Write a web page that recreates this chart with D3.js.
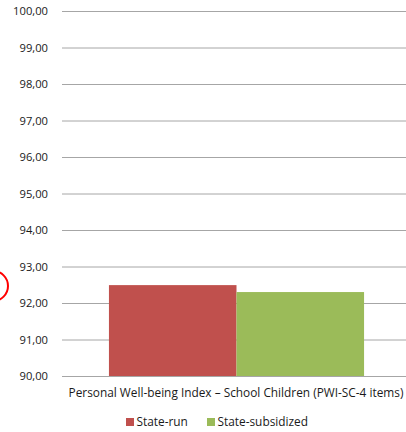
<!DOCTYPE html>
<html><head><meta charset="utf-8">
<script src="https://cdn.jsdelivr.net/npm/d3@7"></script>
<style>body{margin:0;background:#fff}svg{display:block}text{font-family:'Open Sans',sans-serif;fill:#1a1a1a}</style>
</head><body>
<svg id="c" width="406" height="432"></svg>
<script>
const categories = ["Personal Well-being Index – School Children (PWI-SC-4 items)"];
const seriesNames = ["State-run", "State-subsidized"];
const stateRun = [92.49];
const stateSubsidized = [92.30];
const yTicks = [90,91,92,93,94,95,96,97,98,99,100];
const colors = ["#C0504D", "#9BBB59"];

const svg = d3.select("#c");
const y = d3.scaleLinear().domain([90,100]).range([376, 11]);
const x0 = d3.scaleBand().domain(categories).range([62, 411]).paddingInner(0).paddingOuter(0.184);
const x1 = d3.scaleBand().domain(seriesNames).range([0, x0.bandwidth()]);

const yAxis = d3.axisLeft(y).tickValues(yTicks).tickSize(0).tickPadding(0)
  .tickFormat(d => d3.format(".2f")(d).replace(".", ","));
const ga = svg.append("g").attr("transform", "translate(48,0)").call(yAxis);
ga.select(".domain").remove();
ga.selectAll("text").attr("font-size", 11.2).attr("fill", "#1a1a1a").style("font-family","'Open Sans',sans-serif");

svg.append("g").selectAll("line").data(yTicks).join("line")
  .attr("x1", 62).attr("x2", 406).attr("y1", d => y(d)+0.5).attr("y2", d => y(d)+0.5)
  .attr("stroke", "#A6A6A6").attr("stroke-width", 1);

const data = categories.map((c,i) => ({c, vals:[stateRun[i], stateSubsidized[i]]}));
const g = svg.append("g");
data.forEach(d => {
  g.selectAll(null).data(d.vals).join("rect")
    .attr("x", (v,j) => x0(d.c) + x1(seriesNames[j]))
    .attr("width", x1.bandwidth())
    .attr("y", v => y(v))
    .attr("height", v => y(90) - y(v))
    .attr("fill", (v,j) => colors[j]);
});

svg.append("text").attr("x", 236).attr("y", 397)
  .attr("text-anchor", "middle").attr("font-size", 11.85).text(categories[0]);

const leg = svg.append("g");
const legX = [126, 207];
seriesNames.forEach((s,i) => {
  leg.append("rect").attr("x", legX[i]).attr("y", 418).attr("width", 8).attr("height", 8).attr("fill", colors[i]);
  leg.append("text").attr("x", legX[i] + 10.5).attr("y", 426).attr("font-size", 11.85).text(s);
});

svg.append("circle").attr("cx", -7).attr("cy", 286).attr("r", 15)
  .attr("fill", "none").attr("stroke", "#FF0000").attr("stroke-width", 2);
</script>
</body></html>
